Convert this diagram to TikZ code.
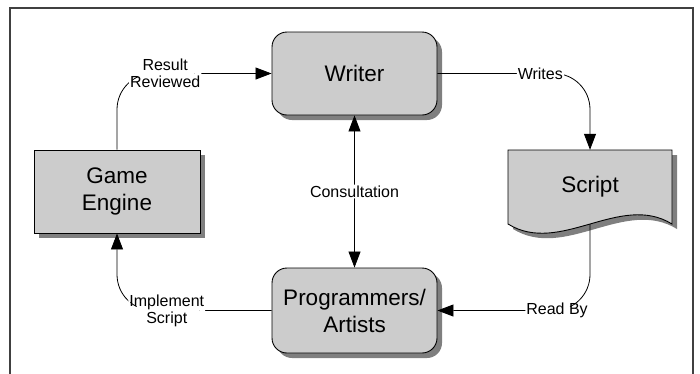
\documentclass[tikz,border=0pt]{standalone}
\usepackage{fontspec}
\setmainfont{Liberation Sans}
\usetikzlibrary{arrows.meta, shadows}
\definecolor{boxgray}{HTML}{CCCCCC}
\definecolor{shadowgray}{HTML}{7F7F7F}
\definecolor{framegray}{HTML}{404040}
\tikzset{
  procbox/.style={draw=black, line width=0.9pt, fill=boxgray, rounded corners=15pt,
                  minimum width=165pt, minimum height=83pt, align=center,
                  font=\fontsize{22.5}{27}\selectfont,
                  drop shadow={shadow xshift=5pt, shadow yshift=-5pt, fill=shadowgray, opacity=1}},
  enginebox/.style={procbox, sharp corners},
  doctext/.style={minimum width=164pt, minimum height=74pt, inner sep=0pt,
                  font=\fontsize{22.5}{27}\selectfont},
  conn/.style={line width=0.8pt, rounded corners=36pt},
  arr/.style={conn, -{Triangle[length=16pt, width=12pt]}},
  dblarr/.style={conn, {Triangle[length=16pt, width=12pt]}-{Triangle[length=16pt, width=12pt]}},
  labl/.style={fill=white, inner sep=1pt, align=center, font=\fontsize{16}{17}\selectfont},
}

\begin{document}
\begin{tikzpicture}[x=1pt, y=-1pt]

  \useasboundingbox (0,0) rectangle (700,373);

  %% outer frame
  \draw[framegray, line width=1.2pt] (10,380) -- (10,8) -- (693,8) -- (693,380);

  %% boxes
  \node[procbox] (wr) at (354.5,73.5) {Writer};
  \node[enginebox, minimum width=166pt] (ge) at (117,191.5) {Game\\Engine};
  \node[procbox, minimum height=85pt] (pa) at (354.5,310.5) {Programmers/\\Artists};

  %% script document shape
  \fill[shadowgray, shift={(5,5)}] (508,150) -- (672,150) -- (672,224)
    .. controls (620,192) and (560,256) .. (508,224) -- cycle;
  \draw[line width=0.9pt, fill=boxgray] (508,150) -- (672,150) -- (672,224)
    .. controls (620,192) and (560,256) .. (508,224) -- cycle;
  \node[doctext] (sc) at (590,187) {Script};
  \coordinate (scb) at (590,224);

  %% connectors
  \draw[arr] (ge.north) |- node[labl, pos=0.656] {Result\\Reviewed} (wr.west);
  \draw[arr] (wr.east) -| node[labl, pos=0.337] {Writes} (sc.north);
  \draw[arr] (scb) |- node[labl, pos=0.608] {Read By} (pa.east);
  \draw[arr] (pa.west) -| node[labl, pos=0.339] {Implement\\Script} (ge.south);
  \draw[dblarr] (wr.south) -- node[labl] {Consultation} (pa.north);

\end{tikzpicture}
\end{document}
